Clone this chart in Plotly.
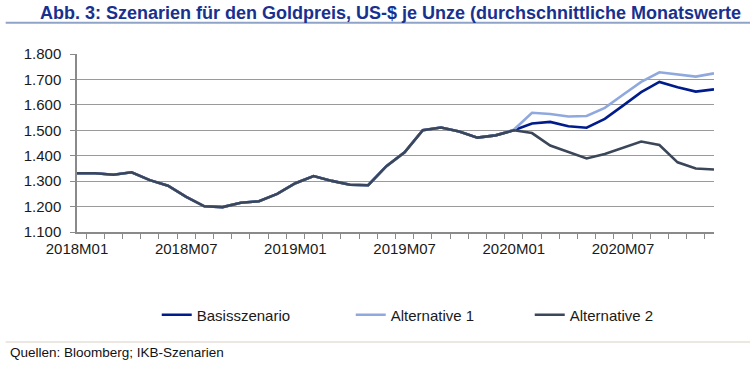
import plotly.graph_objects as go

months = [f"{y}M{m:02d}" for y in (2018, 2019, 2020) for m in range(1, 13)]
tick_labels = ["2018M01", "2018M07", "2019M01", "2019M07", "2020M01", "2020M07"]

history = [1331, 1331, 1325, 1335, 1304, 1282, 1238, 1201, 1198, 1215, 1221, 1250,
           1292, 1320, 1301, 1286, 1284, 1359, 1413, 1500, 1511, 1495, 1471, 1480]
basis_fc = [1500, 1527, 1533, 1516, 1510, 1545, 1597, 1650, 1690, 1669, 1652, 1661]
alt1_fc = [1502, 1569, 1564, 1554, 1556, 1588, 1640, 1690, 1728, 1719, 1711, 1724]
alt2_fc = [1500, 1489, 1440, 1415, 1389, 1407, 1433, 1456, 1442, 1374, 1350, 1346]

basis = history + basis_fc
alt1 = history + alt1_fc
alt2 = history + alt2_fc

FONT = "Liberation Sans, Arial, sans-serif"

fig = go.Figure()
fig.add_trace(go.Scatter(x=months, y=basis, mode="lines", name="Basisszenario",
                         line=dict(color="#001c8c", width=2.6), legendwidth=149))
fig.add_trace(go.Scatter(x=months, y=alt1, mode="lines", name="Alternative 1",
                         line=dict(color="#8fa9de", width=2.6), legendwidth=134))
fig.add_trace(go.Scatter(x=months, y=alt2, mode="lines", name="Alternative 2",
                         line=dict(color="#3b4759", width=2.6)))

fig.update_layout(
    width=750, height=371,
    margin=dict(l=77, r=36, t=54, b=139),
    paper_bgcolor="white", plot_bgcolor="white",
    separators=",.",
    font=dict(family=FONT, size=15, color="#1a1a1a"),
    title=dict(text="<b>Abb. 3: Szenarien für den Goldpreis, US-$ je Unze (durchschnittliche Monatswerte</b>",
               x=40 / 750, xanchor="left", xref="container",
               y=1 - 12.5 / 371, yanchor="middle", yref="container",
               font=dict(family=FONT, size=18, color="#18318f")),
    showlegend=True,
    legend=dict(orientation="h", x=(157 - 77.3) / 636.7, xanchor="left",
                y=(232 - 315) / 178, yanchor="middle",
                font=dict(family=FONT, size=15, color="#1a1a1a"),
                bgcolor="rgba(0,0,0,0)"),
)

fig.update_xaxes(
    type="category", categoryorder="array", categoryarray=months,
    tickmode="array", tickvals=months,
    ticktext=[m if m in tick_labels else "" for m in months],
    tickson="boundaries", ticks="outside", ticklen=5, tickcolor="#8a8a8a",
    showline=True, linecolor="#8a8a8a", linewidth=1.5,
    showgrid=False, zeroline=False,
    tickfont=dict(family=FONT, size=15, color="#1a1a1a"),
    tickangle=0, ticklabelstandoff=2,
)
fig.update_yaxes(
    range=[1100, 1800], tickmode="array",
    tickvals=[1100, 1200, 1300, 1400, 1500, 1600, 1700, 1800],
    tickformat=",d",
    ticks="outside", ticklen=5, tickcolor="#8a8a8a",
    showline=True, linecolor="#8a8a8a", linewidth=1.5,
    showgrid=True, gridcolor="#9a9a9a", gridwidth=1.3, zeroline=False,
    tickfont=dict(family=FONT, size=15, color="#1a1a1a"),
    ticklabelstandoff=6,
)

# title underline and footer rule
fig.add_shape(type="line", xref="paper", yref="paper",
              x0=(6 - 77.3) / 636.7, x1=(750 - 77.3) / 636.7,
              y0=(232 - 22.7) / 178, y1=(232 - 22.7) / 178,
              line=dict(color="#8fa3c8", width=2))
fig.add_shape(type="line", xref="paper", yref="paper",
              x0=(6 - 77.3) / 636.7, x1=(750 - 77.3) / 636.7,
              y0=(232 - 342) / 178, y1=(232 - 342) / 178,
              line=dict(color="#ece8e1", width=2))
fig.add_annotation(text="Quellen: Bloomberg; IKB-Szenarien", xref="paper", yref="paper",
                   x=(8 - 77.3) / 636.7, xanchor="left",
                   y=(232 - 352) / 178, yanchor="middle", showarrow=False,
                   font=dict(family=FONT, size=13.5, color="#111111"))

fig.write_html("out.html", config={"displayModeBar": False},
               post_script="document.body.style.margin='0';")
